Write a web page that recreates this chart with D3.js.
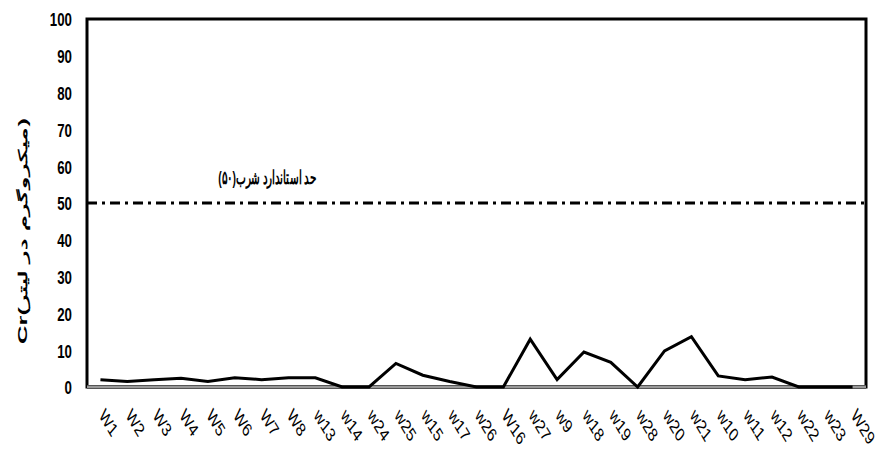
<!DOCTYPE html>
<html><head><meta charset="utf-8">
<script src="https://cdn.jsdelivr.net/npm/d3@7/dist/d3.min.js"></script>
<style>body{margin:0;background:#fff}</style>
</head><body><svg id="c" width="877" height="452"></svg>
<script>
const categories = ["W1","W2","W3","W4","W5","W6","W7","W8","w13","w14","w24","w25","w15","w17","w26","W16","w27","w9","w18","w19","w28","w20","w21","w10","w11","w12","w22","w23","W29"];
const crValues = [2,1.5,2,2.4,1.5,2.5,2,2.5,2.5,0,0,6.4,3.2,1.5,0,0,13,2,9.5,6.7,0,9.8,13.7,3,2,2.7,0,0,0];
const standardValue = 50;
const yTicks = [0,10,20,30,40,50,60,70,80,90,100];
const standardLabel = "حد استاندارد شرب(۵۰)";
const yAxisLabel = "Cr(میکروگرم در لیتر)";

const svg = d3.select("#c");
const L = 87, R = 866, T = 19, B = 387;
const font = "'Liberation Sans',Arial,sans-serif";
const x = d3.scaleBand().domain(categories).range([L, R]);
const y = d3.scaleLinear().domain([0, 100]).range([B, T]);
const cx = d => x(d) + x.bandwidth() / 2;

// frame
svg.append("rect").attr("x", L).attr("y", T).attr("width", R - L).attr("height", B - T)
  .attr("fill", "none").attr("stroke", "#000").attr("stroke-width", 3);
// x axis line (gray)
svg.append("line").attr("x1", L).attr("x2", R).attr("y1", y(0)).attr("y2", y(0))
  .attr("stroke", "#555").attr("stroke-width", 4);
svg.append("line").attr("x1", L).attr("x2", R).attr("y1", y(0)).attr("y2", y(0))
  .attr("stroke", "#999").attr("stroke-width", 2);

// y axis
const yAxis = d3.axisLeft(y).tickValues(yTicks).tickSize(0).tickPadding(0);
const ga = svg.append("g").attr("transform", `translate(${L - 15},0)`).call(yAxis);
ga.select(".domain").remove();
ga.selectAll("text").attr("font-family", font).attr("font-weight", "bold")
  .attr("font-size", 19).attr("fill", "#000").attr("x", 0).attr("dy", "0.36em")
  .attr("transform", "scale(0.7,1)");

// x axis labels
const xAxis = d3.axisBottom(x).tickSize(0).tickPadding(0);
const gx = svg.append("g").attr("transform", `translate(0,${B})`).call(xAxis);
gx.select(".domain").remove();
gx.selectAll("text").attr("font-family", font).attr("font-size", 16).attr("fill", "#000")
  .attr("text-anchor", "start").attr("y", 0).attr("dy", 0)
  .attr("transform", "translate(-2,29) scale(0.85,1.2) rotate(50)");

// standard line
svg.append("line").attr("x1", L).attr("x2", R).attr("y1", y(standardValue)).attr("y2", y(standardValue))
  .attr("stroke", "#000").attr("stroke-width", 3).attr("stroke-dasharray", "10,5,3,5");

function fit(sel, targetLen) {
  const w = sel.node().getComputedTextLength();
  return targetLen / w;
}
const ann = svg.append("g");
const annT = ann.append("text").attr("text-anchor", "middle")
  .attr("font-size", 14).attr("font-weight", "bold").attr("font-family", font)
  .attr("fill", "#000").text(standardLabel);
const sa = fit(annT, 99);
ann.attr("transform", `translate(267,${y(standardValue) - 19}) scale(${sa},1.35)`);

// data line
const line = d3.line().x((d, i) => cx(categories[i])).y(d => y(d));
svg.append("path").datum(crValues).attr("d", line).attr("fill", "none")
  .attr("stroke", "#000").attr("stroke-width", 3).attr("stroke-linejoin", "miter");

// y label
const yl = svg.append("g");
const ylT = yl.append("text").attr("text-anchor", "middle").attr("font-size", 12)
  .attr("font-weight", "bold").attr("font-family", font).attr("fill", "#000").text(yAxisLabel);
const sy = fit(ylT, 230);
yl.attr("transform", `translate(27,231) rotate(-90) scale(${sy},1)`);
</script></body></html>
